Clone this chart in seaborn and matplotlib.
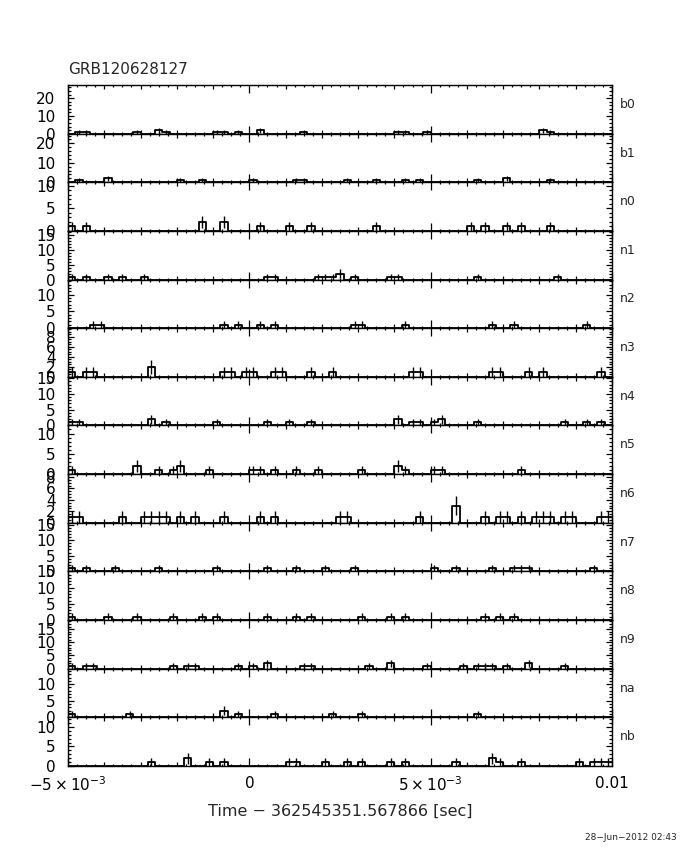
import matplotlib
matplotlib.use('Agg')
import matplotlib.pyplot as plt
from matplotlib.ticker import FixedLocator, MultipleLocator, FixedFormatter
import numpy as np
import pandas as pd
import seaborn as sns

# counts per 0.2 ms bin, 75 bins from -5e-3 to 0.01 s
b0 = [0, 1, 1, 0, 0, 0, 0, 0, 0, 1, 0, 0, 2, 1, 0, 0, 0, 0, 0, 0, 1, 1, 0, 1, 0,
      0, 2, 0, 0, 0, 0, 0, 1, 0, 0, 0, 0, 0, 0, 0, 0, 0, 0, 0, 0, 1, 1, 0, 0, 1,
      0, 0, 0, 0, 0, 0, 0, 0, 0, 0, 0, 0, 0, 0, 0, 2, 1, 0, 0, 0, 0, 0, 0, 0, 0]
b1 = [0, 1, 0, 0, 0, 2, 0, 0, 0, 0, 0, 0, 0, 0, 0, 1, 0, 0, 1, 0, 0, 0, 0, 0, 0,
      1, 0, 0, 0, 0, 0, 1, 1, 0, 0, 0, 0, 0, 1, 0, 0, 0, 1, 0, 0, 0, 1, 0, 1, 0,
      0, 0, 0, 0, 0, 0, 1, 0, 0, 0, 2, 0, 0, 0, 0, 0, 1, 0, 0, 0, 0, 0, 0, 0, 0]
n0 = [1, 0, 1, 0, 0, 0, 0, 0, 0, 0, 0, 0, 0, 0, 0, 0, 0, 0, 2, 0, 0, 2, 0, 0, 0,
      0, 1, 0, 0, 0, 1, 0, 0, 1, 0, 0, 0, 0, 0, 0, 0, 0, 1, 0, 0, 0, 0, 0, 0, 0,
      0, 0, 0, 0, 0, 1, 0, 1, 0, 0, 1, 0, 1, 0, 0, 0, 1, 0, 0, 0, 0, 0, 0, 0, 0]
n1 = [1, 0, 1, 0, 0, 1, 0, 1, 0, 0, 1, 0, 0, 0, 0, 0, 0, 0, 0, 0, 0, 0, 0, 0, 0,
      0, 0, 1, 1, 0, 0, 0, 0, 0, 1, 1, 1, 2, 0, 1, 0, 0, 0, 0, 1, 1, 0, 0, 0, 0,
      0, 0, 0, 0, 0, 0, 1, 0, 0, 0, 0, 0, 0, 0, 0, 0, 0, 1, 0, 0, 0, 0, 0, 0, 0]
n2 = [0, 0, 0, 1, 1, 0, 0, 0, 0, 0, 0, 0, 0, 0, 0, 0, 0, 0, 0, 0, 0, 1, 0, 1, 0,
      0, 1, 0, 1, 0, 0, 0, 0, 0, 0, 0, 0, 0, 0, 1, 1, 0, 0, 0, 0, 0, 1, 0, 0, 0,
      0, 0, 0, 0, 0, 0, 0, 0, 1, 0, 0, 1, 0, 0, 0, 0, 0, 0, 0, 0, 0, 1, 0, 0, 0]
n3 = [1, 0, 1, 1, 0, 0, 0, 0, 0, 0, 0, 2, 0, 0, 0, 0, 0, 0, 0, 0, 0, 1, 1, 0, 1,
      1, 0, 0, 1, 1, 0, 0, 0, 1, 0, 0, 1, 0, 0, 0, 0, 0, 0, 0, 0, 0, 0, 1, 1, 0,
      0, 0, 0, 0, 0, 0, 0, 0, 1, 1, 0, 0, 0, 1, 0, 1, 0, 0, 0, 0, 0, 0, 0, 1, 0]
n4 = [1, 1, 0, 0, 0, 0, 0, 0, 0, 0, 0, 2, 0, 1, 0, 0, 0, 0, 0, 0, 1, 0, 0, 0, 0,
      0, 0, 1, 0, 0, 1, 0, 0, 1, 0, 0, 0, 0, 0, 0, 0, 0, 0, 0, 0, 2, 0, 1, 1, 0,
      1, 2, 0, 0, 0, 0, 1, 0, 0, 0, 0, 0, 0, 0, 0, 0, 0, 0, 1, 0, 0, 1, 0, 1, 0]
n5 = [1, 0, 0, 0, 0, 0, 0, 0, 0, 2, 0, 0, 1, 0, 1, 2, 0, 0, 0, 1, 0, 0, 0, 0, 0,
      1, 1, 0, 1, 0, 0, 1, 0, 0, 1, 0, 0, 0, 0, 0, 1, 0, 0, 0, 0, 2, 1, 0, 0, 0,
      1, 1, 0, 0, 0, 0, 0, 0, 0, 0, 0, 0, 1, 0, 0, 0, 0, 0, 0, 0, 0, 0, 0, 0, 0]
n6 = [1, 1, 0, 0, 0, 0, 0, 1, 0, 0, 1, 1, 1, 1, 0, 1, 0, 1, 0, 0, 0, 1, 0, 0, 0,
      0, 1, 0, 1, 0, 0, 0, 0, 0, 0, 0, 0, 1, 1, 0, 0, 0, 0, 0, 0, 0, 0, 0, 1, 0,
      0, 0, 0, 3, 0, 0, 0, 1, 0, 1, 1, 0, 1, 0, 1, 1, 1, 0, 1, 1, 0, 0, 0, 1, 1]
n7 = [1, 0, 1, 0, 0, 0, 1, 0, 0, 0, 0, 0, 1, 0, 0, 0, 0, 0, 0, 0, 1, 0, 0, 0, 0,
      0, 0, 1, 0, 0, 0, 1, 0, 0, 0, 1, 0, 0, 0, 1, 0, 0, 0, 0, 0, 0, 0, 0, 0, 0,
      1, 0, 0, 1, 0, 0, 0, 0, 1, 0, 0, 1, 1, 1, 0, 0, 0, 0, 0, 0, 0, 0, 1, 0, 0]
n8 = [1, 0, 0, 0, 0, 1, 0, 0, 0, 1, 0, 0, 0, 0, 1, 0, 0, 0, 1, 0, 1, 0, 0, 0, 0,
      0, 0, 1, 0, 0, 0, 1, 0, 1, 0, 0, 0, 0, 0, 0, 1, 0, 0, 0, 1, 0, 1, 0, 0, 0,
      0, 0, 0, 0, 0, 0, 0, 1, 0, 1, 0, 1, 0, 0, 0, 0, 0, 0, 0, 0, 0, 0, 0, 0, 0]
n9 = [1, 0, 1, 1, 0, 0, 0, 0, 0, 0, 0, 0, 0, 0, 1, 0, 1, 1, 0, 0, 0, 0, 0, 1, 0,
      1, 0, 2, 0, 0, 0, 0, 1, 1, 0, 0, 0, 0, 0, 0, 0, 1, 0, 0, 2, 0, 0, 0, 0, 1,
      0, 0, 0, 0, 1, 0, 1, 1, 1, 0, 1, 0, 0, 2, 0, 0, 0, 0, 1, 0, 0, 0, 0, 0, 0]
na = [1, 0, 0, 0, 0, 0, 0, 0, 1, 0, 0, 0, 0, 0, 0, 0, 0, 0, 0, 0, 0, 2, 0, 1, 0,
      0, 0, 0, 1, 0, 0, 0, 0, 0, 0, 0, 1, 0, 0, 0, 1, 0, 0, 0, 0, 0, 0, 0, 0, 0,
      0, 0, 0, 0, 0, 0, 1, 0, 0, 0, 0, 0, 0, 0, 0, 0, 0, 0, 0, 0, 0, 0, 0, 0, 0]
nb = [0, 0, 0, 0, 0, 0, 0, 0, 0, 0, 0, 1, 0, 0, 0, 0, 2, 0, 0, 1, 0, 1, 0, 0, 0,
      0, 0, 0, 0, 0, 1, 1, 0, 0, 0, 1, 0, 0, 1, 0, 1, 0, 0, 0, 1, 0, 1, 0, 0, 0,
      0, 0, 0, 1, 0, 0, 0, 0, 2, 1, 0, 0, 1, 0, 0, 0, 0, 0, 0, 0, 1, 0, 1, 1, 1]

detectors = ['b0', 'b1', 'n0', 'n1', 'n2', 'n3', 'n4', 'n5', 'n6', 'n7', 'n8', 'n9', 'na', 'nb']
series = [b0, b1, n0, n1, n2, n3, n4, n5, n6, n7, n8, n9, na, nb]
y_tops = [27.4, 25, 10.8, 16.5, 14.5, 9.7, 15.5, 12, 8.5, 15.6, 15, 18.5, 14.7, 12.5]
y_major = [10, 10, 5, 5, 5, 2, 5, 5, 2, 5, 5, 5, 5, 5]
y_minor = [2, 2, 1, 1, 1, 0.5, 1, 1, 0.5, 1, 1, 1, 1, 1]

t_start, t_stop, bin_width = -0.005, 0.01, 0.0002
xtick_values = [-0.005, 0.0, 0.005, 0.01]
xtick_labels = [r'$-5\times10^{-3}$', '0', r'$5\times10^{-3}$', '0.01']

sns.set_theme(style='white')
plt.rcParams.update({
    'font.family': ['DejaVu Sans'],
    'mathtext.default': 'regular',
    'axes.edgecolor': 'black',
    'axes.linewidth': 1.0,
    'xtick.color': 'black',
    'ytick.color': 'black',
})

nbins = len(b0)
edges = t_start + bin_width * np.arange(nbins + 1)
centers = 0.5 * (edges[:-1] + edges[1:])

fig, axes = plt.subplots(len(series), 1, sharex=True, figsize=(6.8, 8.5), dpi=100)
fig.subplots_adjust(left=0.1, right=0.9, top=0.9, bottom=0.099, hspace=0)

major_x = np.round(np.arange(-5, 11) * 0.001, 6)

for i, (ax, name, counts) in enumerate(zip(axes, detectors, series)):
    counts = np.asarray(counts, dtype=float)
    # step outline: each bin's value held from its left edge to the next edge
    steps = pd.DataFrame({'t': edges, 'n': np.append(counts, counts[-1])})
    sns.lineplot(data=steps, x='t', y='n', drawstyle='steps-post', estimator=None,
                 color='black', linewidth=1.3, ax=ax)
    hit = counts > 0
    ax.errorbar(centers[hit], counts[hit], yerr=np.sqrt(counts[hit]), fmt='none',
                ecolor='black', elinewidth=1.0, capsize=0)
    ax.set_ylabel('')
    ax.set_xlabel('')
    ax.set_xlim(t_start, t_stop)
    ax.set_ylim(0, y_tops[i])
    ax.yaxis.set_major_locator(MultipleLocator(y_major[i]))
    ax.yaxis.set_minor_locator(MultipleLocator(y_minor[i]))
    ax.tick_params(axis='y', which='both', direction='in', left=True, right=True,
                   labelsize=11, pad=9)
    ax.tick_params(axis='y', which='major', length=4.5, width=0.9)
    ax.tick_params(axis='y', which='minor', length=2.2, width=0.9)
    ax.text(1.015, 0.6, name, transform=ax.transAxes, fontsize=9,
            ha='left', va='center')

for ax in axes:
    ax.xaxis.set_major_locator(FixedLocator(major_x))
    ax.xaxis.set_minor_locator(MultipleLocator(0.00025))
    ax.tick_params(axis='x', which='both', direction='in', top=True, bottom=True)
    ax.tick_params(axis='x', which='major', length=3.2, width=0.9)
    ax.tick_params(axis='x', which='minor', length=1.4, width=0.9)

labels = []
for v in major_x:
    lab = ''
    for tv, tl in zip(xtick_values, xtick_labels):
        if abs(v - tv) < 1e-9:
            lab = tl
    labels.append(lab)
axes[-1].xaxis.set_major_formatter(FixedFormatter(labels))
axes[-1].tick_params(axis='x', which='major', labelsize=11, pad=7)

fig.canvas.draw()
for ax in axes:
    for tick, v in zip(ax.xaxis.get_major_ticks(), major_x):
        if any(abs(v - tv) < 1e-9 for tv in xtick_values):
            tick.tick1line.set_markersize(6)
            tick.tick2line.set_markersize(6)

fig.text(0.1, 0.918, 'GRB120628127', fontsize=11, ha='left', va='center')
fig.text(0.5, 0.045, 'Time \u2212 362545351.567866 [sec]', fontsize=11.5,
         ha='center', va='center')
fig.text(0.995, 0.015, '28\u2212Jun\u22122012 02:43', fontsize=6.5,
         ha='right', va='center')

plt.savefig('out.png', dpi=100)
